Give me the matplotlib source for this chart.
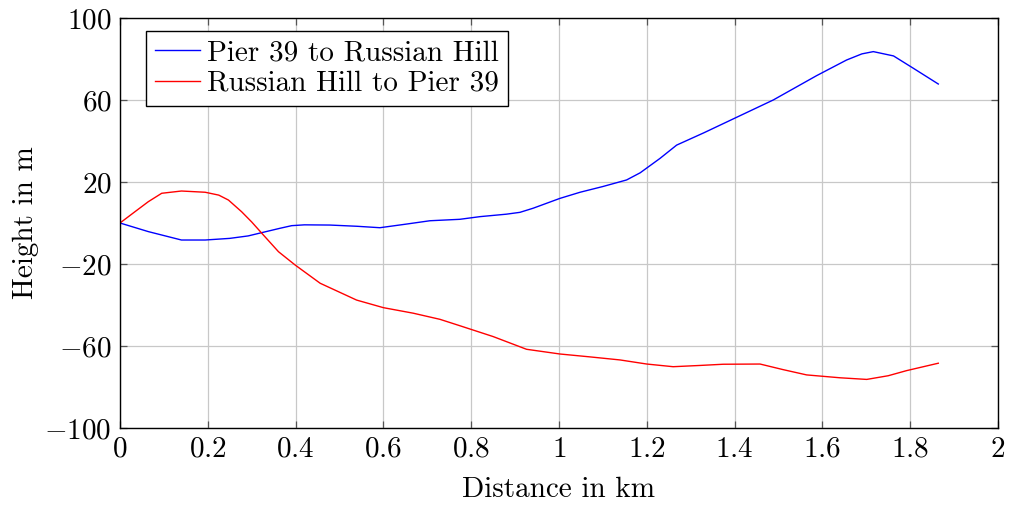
import matplotlib
matplotlib.use("Agg")
import matplotlib.pyplot as plt
from matplotlib.ticker import FuncFormatter

# elevation profiles along the walk, distance in km, height relative to start in m
dist_up = [0, 0.0645, 0.14, 0.194, 0.25, 0.292, 0.323, 0.364, 0.391, 0.42, 0.478, 0.54,
           0.592, 0.65, 0.706, 0.774, 0.82, 0.88, 0.911, 0.941, 1.002, 1.048, 1.1,
           1.154, 1.185, 1.23, 1.268, 1.33, 1.405, 1.488, 1.587, 1.655, 1.69, 1.716,
           1.762, 1.807, 1.864]
height_up = [0, -4.2, -8.3, -8.3, -7.5, -6.3, -4.7, -2.6, -1.3, -0.9, -1.0, -1.6,
             -2.3, -0.6, 1.1, 1.8, 3.1, 4.3, 5.2, 7.2, 12.0, 15.0, 17.8,
             21.0, 24.5, 31.5, 38.0, 44.0, 51.6, 60.0, 71.9, 79.5, 82.5, 83.6,
             81.5, 75.5, 67.8]

dist_down = [0, 0.034, 0.0645, 0.095, 0.14, 0.194, 0.225, 0.247, 0.277, 0.3, 0.323, 0.361,
             0.399, 0.456, 0.539, 0.6, 0.668, 0.729, 0.774, 0.85, 0.926, 1.002, 1.07, 1.139,
             1.2, 1.26, 1.32, 1.374, 1.458, 1.51, 1.564, 1.64, 1.701, 1.75, 1.792, 1.864]
height_down = [0, 5.5, 10.4, 14.5, 15.6, 15.0, 13.6, 11.2, 5.5, 0.5, -5.0, -14.0,
               -20.5, -29.4, -37.6, -41.3, -44.0, -47.0, -50.1, -55.4, -61.6, -63.9, -65.3,
               -66.8, -68.8, -70.1, -69.5, -68.9, -68.8, -71.5, -74.1, -75.5, -76.3, -74.5,
               -72.0, -68.4]

x_ticks = [0, 0.2, 0.4, 0.6, 0.8, 1.0, 1.2, 1.4, 1.6, 1.8, 2.0]
y_ticks = [-100, -60, -20, 20, 60, 100]

plt.rcParams["font.family"] = "serif"
plt.rcParams["font.serif"] = ["cmr10"]
plt.rcParams["mathtext.fontset"] = "cm"
plt.rcParams["axes.formatter.use_mathtext"] = True
plt.rcParams["font.size"] = 21

fig = plt.figure(figsize=(10.16, 5.08), dpi=100)
ax = fig.add_axes([120 / 1016, 1 - 428 / 508, 878 / 1016, 410 / 508])

ax.plot(dist_up, height_up, color="blue", lw=1.0, label="Pier 39 to Russian Hill")
ax.plot(dist_down, height_down, color="red", lw=1.0, label="Russian Hill to Pier 39")

ax.set_xlim(0, 2)
ax.set_ylim(-100, 100)
ax.set_xticks(x_ticks)
ax.set_yticks(y_ticks)
ax.xaxis.set_major_formatter(FuncFormatter(lambda v, p: "$\\mathdefault{%g}$" % v))
ax.yaxis.set_major_formatter(FuncFormatter(lambda v, p: "$\\mathdefault{%g}$" % v))
ax.grid(True, color="#c8c8c8", lw=0.9)
ax.set_axisbelow(True)
ax.tick_params(direction="in", top=True, right=True, length=5, width=0.9,
               color="#555555", pad=6)
for s in ax.spines.values():
    s.set_linewidth(1.0)

ax.set_xlabel("Distance in km", labelpad=10)
ax.set_ylabel("Height in m", labelpad=4)

leg = ax.legend(loc="upper left", bbox_to_anchor=(26 / 878, 1 - 13 / 410), fancybox=False,
                framealpha=1, edgecolor="black", borderaxespad=0, handlelength=1.55,
                handletextpad=0.25, borderpad=0.3, labelspacing=0.15)
leg.get_frame().set_linewidth(1.0)

fig.savefig("out.png", dpi=100)
